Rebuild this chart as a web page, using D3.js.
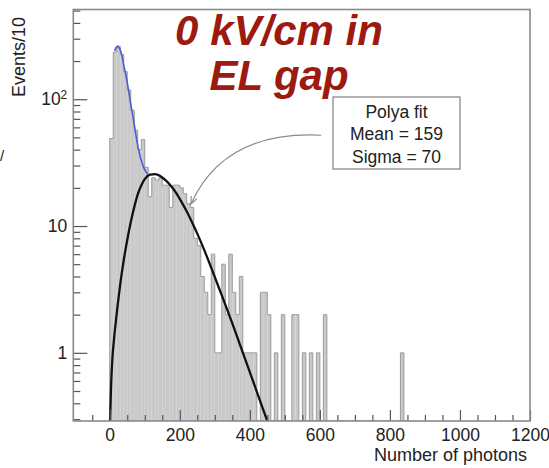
<!DOCTYPE html>
<html><head><meta charset="utf-8">
<script src="https://cdn.jsdelivr.net/npm/d3@7"></script>
<style>
body{margin:0;background:#fff;}
svg{display:block;font-family:"Liberation Sans",Arial,Helvetica,sans-serif;}
</style>
</head><body>
<svg id="c" width="549" height="468"></svg>
<script>
// ---------------- data ----------------
const binWidth = 10;
const binStarts = [0,10,20,30,40,50,60,70,80,90,100,110,120,130,140,150,160,170,180,190,
  200,210,220,230,240,250,260,270,280,290,300,310,320,330,340,350,360,370,380,390,
  400,410,420,430,440,450,460,470,480,490,500,510,520,530,540,550,560,570,580,590,
  600,610,620,630,640,650,660,670,680,690,700,710,720,730,740,750,760,770,780,790,
  800,810,820,830,840];
const counts = [49,235,262,225,165,118,82,57,40,48,29,17,24,23,24,21,21,14,21,21,
  20,18,15,14,8,7,4,3,2,6,1,1,5,2,6,3,2,4,1,1,
  1,1,0,3,3,2,0,1,0,2,0,0,2,2,0,1,0,1,0,1,
  0,2,0,0,0,0,0,0,0,0,0,0,0,0,0,0,0,0,0,0,
  0,0,0,1,0];
// Polya fit curve
const polyaX = [1,4,8,12,16,22,30,40,50,60,70,80,90,100,115,130,145,160,175,190,205,220,235,250,270,290,310,330,350,370,390,410,430,453];
const polyaY = [0.29,0.562,0.933,1.26,1.62,2.29,3.47,5.37,7.76,10.7,14.1,17.8,20.9,23.4,25.4,25.7,24.7,22.9,20.7,18.2,15.5,13.0,10.7,8.71,6.46,4.68,3.35,2.40,1.71,1.20,0.841,0.589,0.412,0.275];
// low-energy fit (blue)
const blueX = [14,18,22,26,30,35,39,44,49,54,58,63,68,73,77,82,87,92,96,102,108];
const blueY = [240,255,261,256,245,220,192,165,141,117,98.5,82,68.6,56,47.7,40.5,35.2,31.8,29.3,27.2,25.7];
// axes
const xMajorTicks = [0,200,400,600,800,1000,1200];
const xMinorTicks = [-50,50,100,150,250,300,350,450,500,550,650,700,750,850,900,950,1050,1100,1150];
const yMajorTicks = [1,10,100];
const yMajorLabels = ["1","10","10"];
const yMajorSup = ["","","2"];
const yMinorTicks = [0.3,0.4,0.5,0.6,0.7,0.8,0.9,2,3,4,5,6,7,8,9,20,30,40,50,60,70,80,90,200,300,400,500];
const titleLines = ["0 kV/cm in","EL gap"];
const statLines = ["Polya fit","Mean = 159","Sigma = 70"];
const xTitle = "Number of photons";
const yTitle = "Events/10";
// annotation arrow in data coords: start, control, end
const arrowPts = [[604,52],[327,56.7],[232,14.9]];

// ---------------- chart ----------------
const svg = d3.select("#c");
const L = 73.3, R = 530, T = 9.5, B = 421;
const x = d3.scaleLinear().domain([-104,1200]).range([L,R]);
const y = d3.scaleLog().domain([0.29,510]).range([B,T]);
const ymin = y.domain()[0];

svg.append("defs").append("clipPath").attr("id","clip")
  .append("rect").attr("x",L).attr("y",T).attr("width",R-L).attr("height",B-T);

const g = svg.append("g").attr("clip-path","url(#clip)");

const bins = binStarts.map((s,i)=>({s, v:counts[i]}));
g.selectAll("rect.bar").data(bins.filter(d=>d.v>0)).join("rect")
  .attr("class","bar")
  .attr("x",d=>x(d.s)).attr("width",d=>x(d.s+binWidth)-x(d.s))
  .attr("y",d=>y(d.v)).attr("height",d=>B-y(d.v))
  .attr("fill","#c9c9c9");

const outlinePts = [[binStarts[0], ymin]]
  .concat(bins.map(d=>[d.s, d.v>0?d.v:ymin]))
  .concat([[binStarts[binStarts.length-1]+binWidth, ymin]]);
g.append("path").datum(outlinePts)
  .attr("d", d3.line().x(d=>x(d[0])).y(d=>y(d[1])).curve(d3.curveStepAfter))
  .attr("fill","none").attr("stroke","#9c9c9c").attr("stroke-width",1);

// curves
const lineGen = d3.line().x(d=>x(d[0])).y(d=>y(d[1])).curve(d3.curveMonotoneX);
g.append("path").datum(blueX.map((v,i)=>[v,blueY[i]]))
  .attr("d",lineGen).attr("fill","none").attr("stroke","#4c5cd4").attr("stroke-width",1.6);
g.append("path").datum(polyaX.map((v,i)=>[v,polyaY[i]]))
  .attr("d",lineGen).attr("fill","none").attr("stroke","#111").attr("stroke-width",2.3);

// axes
const tickColor = "#555";
const xAxisMinor = d3.axisBottom(x).tickValues(xMinorTicks).tickSize(-6).tickFormat("");
const xAxisMajor = d3.axisBottom(x).tickValues(xMajorTicks).tickSize(-11).tickPadding(8).tickFormat(d3.format("d"));
const gx1 = svg.append("g").attr("transform",`translate(0,${B})`).call(xAxisMinor);
const gx2 = svg.append("g").attr("transform",`translate(0,${B})`).call(xAxisMajor);
const yAxisMinor = d3.axisLeft(y).tickValues(yMinorTicks).tickSize(-7).tickFormat("");
const yAxisMajor = d3.axisLeft(y).tickValues(yMajorTicks).tickSize(-14).tickPadding(6).tickFormat((d,i)=>yMajorLabels[i]);
const gy1 = svg.append("g").attr("transform",`translate(${L},0)`).call(yAxisMinor);
const gy2 = svg.append("g").attr("transform",`translate(${L},0)`).call(yAxisMajor);
[gx1,gx2,gy1,gy2].forEach(a=>{
  a.select(".domain").remove();
  a.selectAll(".tick line").attr("stroke",tickColor).attr("stroke-width",1.2);
  a.selectAll(".tick text").attr("fill","#222").attr("font-size",17.5)
    .attr("font-family",'"Liberation Sans",Arial,Helvetica,sans-serif');
});
gy2.selectAll(".tick text").each(function(d,i){
  if (yMajorSup[i]) {
    d3.select(this).append("tspan").attr("dy","-0.55em").attr("font-size",12).text(yMajorSup[i]);
  }
});

// frame
svg.append("rect").attr("x",L).attr("y",T).attr("width",R-L).attr("height",B-T)
  .attr("fill","none").attr("stroke","#8a8a8a").attr("stroke-width",1.6);

// axis titles
svg.append("text").attr("x",527).attr("y",461).attr("text-anchor","end")
  .attr("font-size",18).attr("fill","#222").text(xTitle);
svg.append("text").attr("transform","translate(25,17) rotate(-90)").attr("text-anchor","end")
  .attr("font-size",18).attr("fill","#222").text(yTitle);

// stray glyph at left edge (fragment of neighbouring text)
svg.append("text").attr("x",0).attr("y",161).attr("font-size",15).attr("fill","#222").text("/");

// title
svg.append("g").selectAll("text").data(titleLines).join("text")
  .attr("x",279).attr("y",(d,i)=>45+i*45).attr("text-anchor","middle")
  .attr("font-size",42).attr("font-weight","bold").attr("font-style","italic")
  .attr("fill","#9c1a0f").text(d=>d);

// arrow
const ap = arrowPts.map(p=>[x(p[0]),y(p[1])]);
const pth = d3.path();
pth.moveTo(ap[0][0],ap[0][1]);
pth.quadraticCurveTo(ap[1][0],ap[1][1],ap[2][0],ap[2][1]);
svg.append("path").attr("d",pth.toString()).attr("fill","none").attr("stroke","#8a8a8a").attr("stroke-width",1.2);
const ang = Math.atan2(ap[2][1]-ap[1][1], ap[2][0]-ap[1][0]);
const hl = 8;
const head = d3.path();
head.moveTo(ap[2][0]-hl*Math.cos(ang-0.4), ap[2][1]-hl*Math.sin(ang-0.4));
head.lineTo(ap[2][0],ap[2][1]);
head.lineTo(ap[2][0]-hl*Math.cos(ang+0.4), ap[2][1]-hl*Math.sin(ang+0.4));
svg.append("path").attr("d",head.toString()).attr("fill","none").attr("stroke","#8a8a8a").attr("stroke-width",1.2);

// stats box
const bx = 333, by = 97, bw = 127, bh = 72;
svg.append("rect").attr("x",bx).attr("y",by).attr("width",bw).attr("height",bh)
  .attr("fill","#fff").attr("stroke","#8a8a8a").attr("stroke-width",1.3);
svg.append("g").selectAll("text").data(statLines).join("text")
  .attr("x",bx+bw/2).attr("y",(d,i)=>118+i*22.3).attr("text-anchor","middle")
  .attr("font-size",17.5).attr("fill","#222").text(d=>d);
</script>
</body></html>
